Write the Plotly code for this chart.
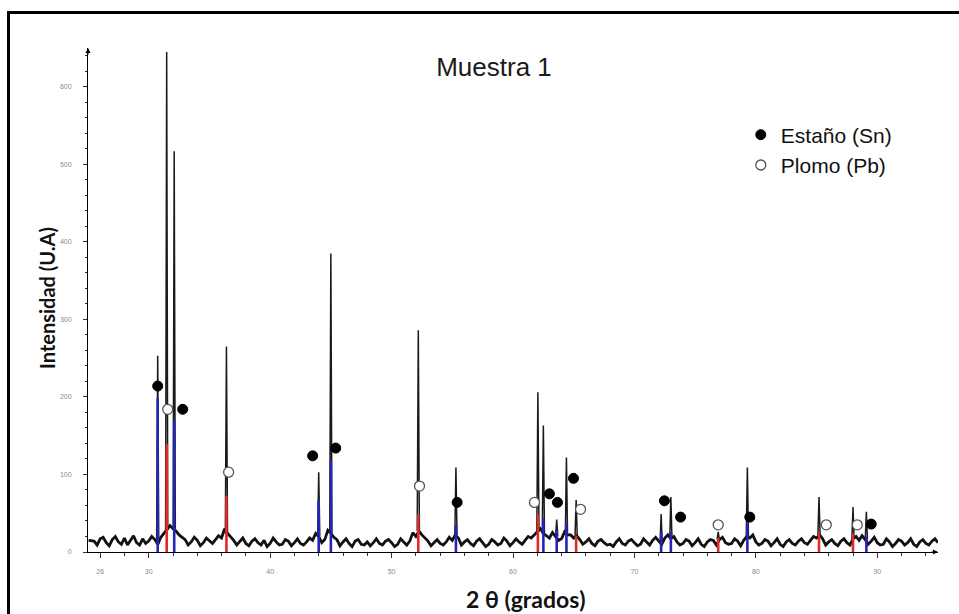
import plotly.graph_objects as go

# ---------------- data ----------------
# noisy background of the diffractogram, sampled every 0.5 deg starting at 25.5
BASE_START = 25.5
BASE_STEP = 0.5
BASE_COUNTS = [14, 17, 12, 16, 13, 18, 15, 12, 17, 14, 16, 19,
               28, 30, 22, 16, 13, 15, 12, 14, 16, 18, 24, 15, 13, 11, 14, 12, 15, 11,
               13, 10, 14, 12, 11, 13, 15, 20, 16, 24, 16, 13, 11, 14, 10, 13, 12, 11,
               14, 12, 10, 13, 14, 20, 22, 14, 12, 11, 13, 15, 18, 13, 11, 14, 12, 10,
               13, 11, 14, 12, 13, 15, 18, 26, 24, 18, 20, 17, 22, 18, 16, 13, 11, 14,
               12, 10, 13, 11, 14, 12, 10, 13, 15, 14, 18, 17, 13, 11, 14, 12, 10, 13,
               15, 16, 12, 11, 14, 15, 18, 13, 11, 14, 12, 10, 13, 11, 14, 12, 15, 18,
               17, 13, 11, 14, 12, 17, 15, 16, 14, 12, 10, 13, 11, 14, 12, 10, 13, 11,
               14, 12]
# background read between those samples (25.75, 26.25, ... 94.75)
BASE_MID_COUNTS = [9, 19, 8, 20, 10, 9, 21, 9, 11, 20, 10, 24,
                   34, 27, 19, 9, 19, 8, 18, 11, 21, 30, 20, 9,
                   18, 8, 17, 9, 7, 18, 9, 16, 8, 17, 9, 18,
                   24, 12, 28, 19, 8, 17, 7, 16, 9, 8, 17, 9,
                   16, 7, 17, 9, 25, 27, 18, 8, 16, 9, 19, 22,
                   9, 16, 8, 17, 7, 16, 9, 18, 8, 17, 10, 20,
                   22, 30, 21, 25, 15, 26, 22, 21, 10, 17, 8, 16,
                   9, 7, 17, 9, 16, 8, 17, 9, 19, 10, 22, 20,
                   9, 16, 8, 17, 7, 16, 9, 19, 10, 17, 8, 20,
                   22, 9, 16, 8, 17, 7, 16, 9, 17, 10, 20, 22,
                   9, 16, 8, 17, 9, 20, 21, 10, 19, 9, 17, 7,
                   16, 9, 17, 7, 16, 9, 17]

# diffraction peaks of the measured pattern (2theta, intensity)
PEAK_POS = [30.74, 31.48, 32.1, 36.4, 44.0, 45.0, 52.2, 55.3, 62.05, 62.5,
            63.6, 64.4, 65.2, 72.2, 73.0, 76.9, 79.3, 85.2, 88.0, 89.1]
PEAK_INT = [253, 645, 517, 265, 103, 385, 286, 109, 206, 163,
            42, 122, 67, 49, 71, 26, 109, 71, 58, 52]

# reference patterns (stick lines)
SN_STICK_POS = [30.74, 32.1, 44.0, 45.0, 55.3, 62.5, 63.6, 64.4, 72.2, 73.0, 79.3, 89.1]
SN_STICK_INT = [198, 170, 67, 118, 35, 44, 28, 37, 26, 26, 37, 20]
PB_STICK_POS = [31.48, 36.4, 52.2, 62.05, 65.2, 76.9, 85.2, 88.0]
PB_STICK_INT = [139, 72, 48, 48, 21, 18, 24, 24]

# phase identification markers
SN_MARK_POS = [30.74, 32.8, 43.5, 45.4, 55.4, 63.0, 63.66, 64.98, 72.47, 73.8, 79.5, 89.5]
SN_MARK_INT = [214, 184, 124, 134, 64, 75, 64, 95, 66, 45, 45, 36]
PB_MARK_POS = [31.56, 36.58, 52.3, 61.77, 65.56, 76.9, 85.8, 88.35]
PB_MARK_INT = [184, 103, 85, 64, 55, 35, 35, 35]

X_TICKS = [26, 30, 40, 50, 60, 70, 80, 90]
Y_TICKS = [0, 100, 200, 300, 400, 500, 600]

# ---------------- build profile ----------------
HALF_W = 0.09
bg = [(BASE_START + i * BASE_STEP, v) for i, v in enumerate(BASE_COUNTS)]
bg += [(BASE_START + BASE_STEP / 2 + i * BASE_STEP, v) for i, v in enumerate(BASE_MID_COUNTS)]
bg.append((25.05, 15))
bg.sort()
bx = [p[0] for p in bg]
by = [p[1] for p in bg]

kx, ky = [], []
for c, h in zip(PEAK_POS, PEAK_INT):
    b = min(bg, key=lambda p: abs(p[0] - c))[1]
    kx += [c - HALF_W, c, c + HALF_W, None]
    ky += [b, h, b, None]


def sticks(pos, val):
    xs, ys = [], []
    for p, v in zip(pos, val):
        xs += [p, p, None]
        ys += [0, v, None]
    return xs, ys


fig = go.Figure()
fig.add_trace(go.Scatter(x=bx, y=by, mode="lines", line=dict(color="#111111", width=2.8),
                         showlegend=False, hoverinfo="skip"))
fig.add_trace(go.Scatter(x=kx, y=ky, mode="lines", line=dict(color="#1a1a1a", width=1.5),
                         showlegend=False, hoverinfo="skip"))
sx, sy = sticks(SN_STICK_POS, SN_STICK_INT)
fig.add_trace(go.Scatter(x=sx, y=sy, mode="lines", line=dict(color="#2424b8", width=2.6),
                         showlegend=False, hoverinfo="skip"))
rx, ry = sticks(PB_STICK_POS, PB_STICK_INT)
fig.add_trace(go.Scatter(x=rx, y=ry, mode="lines", line=dict(color="#e02a2a", width=2.6),
                         showlegend=False, hoverinfo="skip"))
fig.add_trace(go.Scatter(x=SN_MARK_POS, y=SN_MARK_INT, mode="markers", name="Estaño (Sn)",
                         marker=dict(symbol="circle", size=10, color="black",
                                     line=dict(color="black", width=1))))
fig.add_trace(go.Scatter(x=PB_MARK_POS, y=PB_MARK_INT, mode="markers", name="Plomo (Pb)",
                         marker=dict(symbol="circle", size=10, color="white",
                                     line=dict(color="#555555", width=1.3))))

tickfont = dict(family="Liberation Sans, Arial, sans-serif", size=7, color="#8a8a8a")
fig.update_xaxes(range=[25, 95], tickvals=X_TICKS, ticktext=[str(v) for v in X_TICKS],
                 showgrid=False, zeroline=False, showline=True, linecolor="black", linewidth=1,
                 ticks="outside", ticklen=5, tickcolor="#333", tickfont=tickfont,
                 ticklabelstandoff=8,
                 minor=dict(tick0=26, dtick=2, ticks="outside", ticklen=3, tickcolor="#333"))
fig.update_yaxes(range=[0, 650], tickvals=Y_TICKS, showgrid=False, zeroline=False,
                 showline=True, linecolor="black", linewidth=1,
                 ticks="outside", ticklen=4, tickcolor="#333", tickfont=tickfont,
                 ticklabelstandoff=10,
                 minor=dict(dtick=20, ticks="outside", ticklen=2, tickcolor="#333"))

fig.update_layout(
    width=959, height=614,
    margin=dict(l=88, r=21, t=48, b=62),
    paper_bgcolor="white", plot_bgcolor="white",
    title=dict(text="Muestra 1", x=494 / 959, xanchor="center", y=1 - 67 / 614, yanchor="middle",
               font=dict(family="Liberation Sans, Arial, sans-serif", size=26, color="#1a1a1a")),
    legend=dict(x=0.768, y=0.868, xanchor="left", yanchor="top", bgcolor="rgba(0,0,0,0)",
                font=dict(family="Liberation Sans, Arial, sans-serif", size=21, color="#111"),
                itemwidth=30, tracegroupgap=0),
    annotations=[
        dict(text="<b>Intensidad (U.A)</b>", xref="paper", yref="paper",
             x=(47 - 88) / 850, y=(552 - 298) / 504, textangle=-90, showarrow=False,
             xanchor="center", yanchor="middle",
             font=dict(family="Lato, Open Sans, sans-serif", size=20, color="#111")),
        dict(text="<b>2 θ (grados)</b>", xref="paper", yref="paper",
             x=(526 - 88) / 850, y=(552 - 599) / 504, showarrow=False,
             xanchor="center", yanchor="middle",
             font=dict(family="Lato, Open Sans, sans-serif", size=23, color="#111")),
        dict(x=0, y=1, xref="paper", yref="paper", ax=0, ay=8, axref="pixel", ayref="pixel",
             showarrow=True, arrowhead=2, arrowsize=1, arrowwidth=1, arrowcolor="black", text=""),
        dict(x=1, y=0, xref="paper", yref="paper", ax=-8, ay=0,
             showarrow=True, arrowhead=2, arrowsize=1, arrowwidth=1, arrowcolor="black", text=""),
    ],
    shapes=[dict(type="rect", xref="paper", yref="paper",
                 x0=(8.5 - 88) / 850, x1=(975 - 88) / 850,
                 y0=(552 - 640) / 504, y1=(552 - 12.5) / 504,
                 line=dict(color="black", width=3))],
)

fig.write_html("out.html")
